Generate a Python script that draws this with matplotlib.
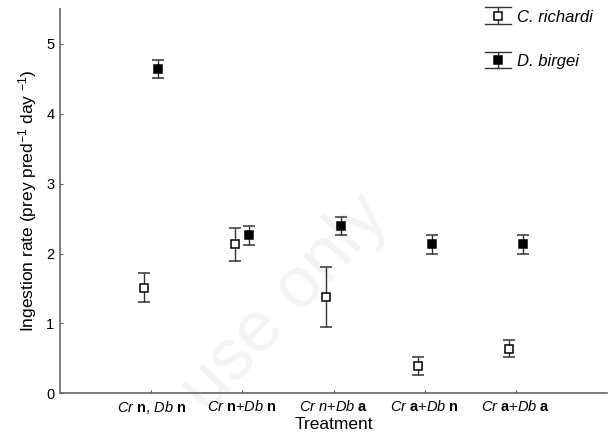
import numpy as np
import matplotlib
matplotlib.use('Agg')
import matplotlib.pyplot as plt
from matplotlib.lines import Line2D

plt.rcParams['font.family'] = ['Liberation Sans', 'DejaVu Sans']
plt.rcParams['mathtext.fontset'] = 'custom'
plt.rcParams['mathtext.rm'] = 'Liberation Sans'
plt.rcParams['mathtext.it'] = 'Liberation Sans:italic'
plt.rcParams['mathtext.bf'] = 'Liberation Sans:bold'

# Datos
tratamientos = [r'$\mathit{Cr}$ $\mathbf{n}$, $\mathit{Db}$ $\mathbf{n}$',
                r'$\mathit{Cr}$ $\mathbf{n}$+$\mathit{Db}$ $\mathbf{n}$',
                r'$\mathit{Cr}$ $\mathit{n}$+$\mathit{Db}$ $\mathbf{a}$',
                r'$\mathit{Cr}$ $\mathbf{a}$+$\mathit{Db}$ $\mathbf{n}$',
                r'$\mathit{Cr}$ $\mathbf{a}$+$\mathit{Db}$ $\mathbf{a}$']
cr_media = [1.51, 2.13, 1.38, 0.39, 0.64]
cr_error = [0.21, 0.24, 0.43, 0.13, 0.12]
db_media = [4.64, 2.26, 2.39, 2.13, 2.13]
db_error = [0.13, 0.14, 0.13, 0.13, 0.13]
especies = ['C. richardi', 'D. birgei']

x = np.arange(1, len(tratamientos) + 1)
dx = 0.077
gris = '#333333'

fig = plt.figure(figsize=(6.08, 4.46), dpi=100)
ax = fig.add_axes([60/608, 52.7/446, 547/608, 384.3/446])
ax.patch.set_alpha(0)

ax.errorbar(x - dx, cr_media, yerr=cr_error, fmt='s', mfc='white', mec='black',
            mew=1.1, ms=5.5, ecolor=gris, elinewidth=1.0, capsize=4, capthick=1.0)
ax.errorbar(x + dx, db_media, yerr=db_error, fmt='s', mfc='black', mec='black',
            mew=1.1, ms=5.5, ecolor=gris, elinewidth=1.0, capsize=4, capthick=1.0)

ax.set_xlim(0, 6)
ax.set_ylim(0, 5.5)
ax.set_xticks(x)
ax.set_xticklabels(tratamientos, fontsize=10.3)
ax.set_yticks([0, 1, 2, 3, 4, 5])
ax.tick_params(axis='both', direction='in', length=2, width=0.8, color='#555555',
               labelsize=10.5, pad=4)
for lado in ['top', 'right']:
    ax.spines[lado].set_visible(False)
for lado in ['left', 'bottom']:
    ax.spines[lado].set_color('#666666')
    ax.spines[lado].set_linewidth(1.2)

ax.set_xlabel('Treatment', fontsize=12.5, labelpad=1)
ax.set_ylabel('Ingestion rate (prey pred$^{\\mathrm{-1}}$ day $^{\\mathrm{-1}}$)',
              fontsize=12.5, labelpad=5)


class ManejadorBarra:
    # simbolo de leyenda: tapa arriba, marcador, tapa abajo
    def __init__(self, relleno):
        self.relleno = relleno

    def legend_artist(self, legend, orig_handle, fontsize, handlebox):
        x0, y0 = -handlebox.xdescent, -handlebox.ydescent
        w, h = handlebox.width, handlebox.height
        t = handlebox.get_transform()
        cx = x0 + w / 2
        arriba = y0 + h / 2 + 6
        abajo = y0 + h / 2 - 6
        partes = [
            Line2D([x0, x0 + w], [arriba, arriba], color=gris, lw=1.0),
            Line2D([x0, x0 + w], [abajo, abajo], color=gris, lw=1.0),
            Line2D([cx, cx], [abajo, arriba], color=gris, lw=1.0),
            Line2D([cx], [y0 + h / 2], marker='s', ms=5.5, mfc=self.relleno,
                   mec='black', mew=1.1, ls='none'),
        ]
        for p in partes:
            p.set_transform(t)
            handlebox.add_artist(p)
        return partes[-1]


h1 = Line2D([], [], label=especies[0])
h2 = Line2D([], [], label=especies[1])
leg = fig.legend(handles=[h1, h2], loc='upper right', bbox_to_anchor=(1.0, 1.012),
                 frameon=False, prop={'style': 'italic', 'size': 12},
                 handlelength=1.6, handletextpad=0.35, labelspacing=1.75,
                 handler_map={h1: ManejadorBarra('white'), h2: ManejadorBarra('black')})

fig.text(0.47, 0.32, 'use only', fontsize=52, color='#f4f4f4',
         rotation=47, ha='center', va='center', zorder=-1)

fig.savefig('out.png', dpi=100)
